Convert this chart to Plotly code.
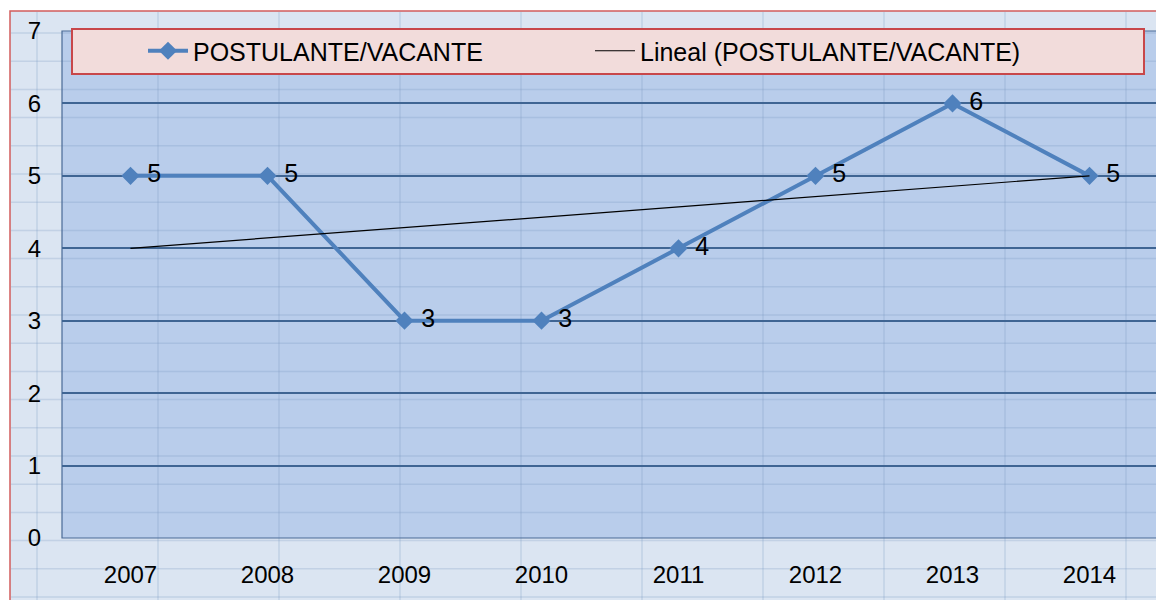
import numpy as np
import plotly.graph_objs as go

# datos
years = ["2007", "2008", "2009", "2010", "2011", "2012", "2013", "2014"]
postulante_vacante = [5, 5, 3, 3, 4, 5, 6, 5]
y_ticks = [0, 1, 2, 3, 4, 5, 6, 7]

# tendencia lineal (como Excel)
xs = np.arange(len(years))
slope, intercept = np.polyfit(xs, postulante_vacante, 1)
trend = list(slope * xs + intercept)

# la pagina tiene 8px de margen en el body
OFF = 8
W, H = 1164 - OFF, 600 - OFF
ML, MR, MT, MB = 62 - OFF, 6, 31 - OFF, 62
PW, PH = W - ML - MR, H - MT - MB


def px(x):
    # x en pixeles de pantalla -> coordenadas paper
    return (x - OFF - ML) / PW


def py(y):
    return (H - MB - (y - OFF)) / PH


fig = go.Figure()

fig.add_trace(go.Scatter(
    x=years, y=postulante_vacante, name="POSTULANTE/VACANTE",
    mode="lines+markers+text",
    line=dict(color="#4f81bd", width=4),
    marker=dict(symbol="diamond", size=14, color="#4f81bd"),
    text=[" " + str(v) for v in postulante_vacante],
    textposition="middle right",
    textfont=dict(family="Liberation Sans, Arial", size=25, color="black"),
))
fig.add_trace(go.Scatter(
    x=years, y=trend, name="Lineal (POSTULANTE/VACANTE)",
    mode="lines", line=dict(color="black", width=1.2),
))

shapes = []
# fondo de la hoja
shapes.append(dict(type="rect", xref="paper", yref="paper", layer="below",
                   x0=px(10), x1=px(1180), y0=py(11), y1=py(620),
                   fillcolor="#dbe5f2", line=dict(color="#d25c5c", width=1.5)))
# area de trazado
shapes.append(dict(type="rect", xref="paper", yref="paper", layer="below",
                   x0=0, x1=1, y0=0, y1=1,
                   fillcolor="#b9cdeb", line=dict(width=0)))
# celdas de la hoja
cell = "rgba(120,150,190,0.25)"
for k in range(10):
    xv = 37 + 121 * k
    shapes.append(dict(type="line", xref="paper", yref="paper", layer="below",
                       x0=px(xv), x1=px(xv), y0=py(12), y1=py(610),
                       line=dict(color=cell, width=1.5)))
for k in range(21):
    yv = 33 + 28.2 * k
    shapes.append(dict(type="line", xref="paper", yref="paper", layer="below",
                       x0=px(11), x1=px(1175), y0=py(yv), y1=py(yv),
                       line=dict(color=cell, width=1.5)))
# borde del area de trazado
shapes.append(dict(type="rect", xref="paper", yref="paper", layer="below",
                   x0=0, x1=1, y0=0, y1=1,
                   line=dict(color="#4a6a96", width=1.2)))
# caja de la leyenda
shapes.append(dict(type="rect", xref="paper", yref="paper", layer="above",
                   x0=px(72), x1=px(1144), y0=py(29), y1=py(74),
                   fillcolor="#f2dcdb", line=dict(color="#c8474a", width=2)))

fig.update_layout(
    width=W, height=H,
    margin=dict(l=ML, r=MR, t=MT, b=MB),
    paper_bgcolor="white",
    plot_bgcolor="rgba(0,0,0,0)",
    shapes=shapes,
    font=dict(family="Liberation Sans, Arial", size=24, color="black"),
    showlegend=True,
    legend=dict(
        orientation="h", x=px(143), xanchor="left", y=py(51), yanchor="middle",
        bgcolor="rgba(0,0,0,0)", borderwidth=0,
        font=dict(size=25, color="black"),
        entrywidth=392, itemwidth=40,
    ),
    xaxis=dict(
        type="category", range=[-0.5, 7.5], showgrid=False, zeroline=False,
        ticks="", ticklabelstandoff=20, showline=False,
    ),
    yaxis=dict(
        range=[0, 7], tickvals=y_ticks, showgrid=True, gridcolor="#3f6593",
        gridwidth=1.5, zeroline=False, ticks="", ticklabelstandoff=20,
        showline=False,
    ),
)

fig.write_html("out.html")
